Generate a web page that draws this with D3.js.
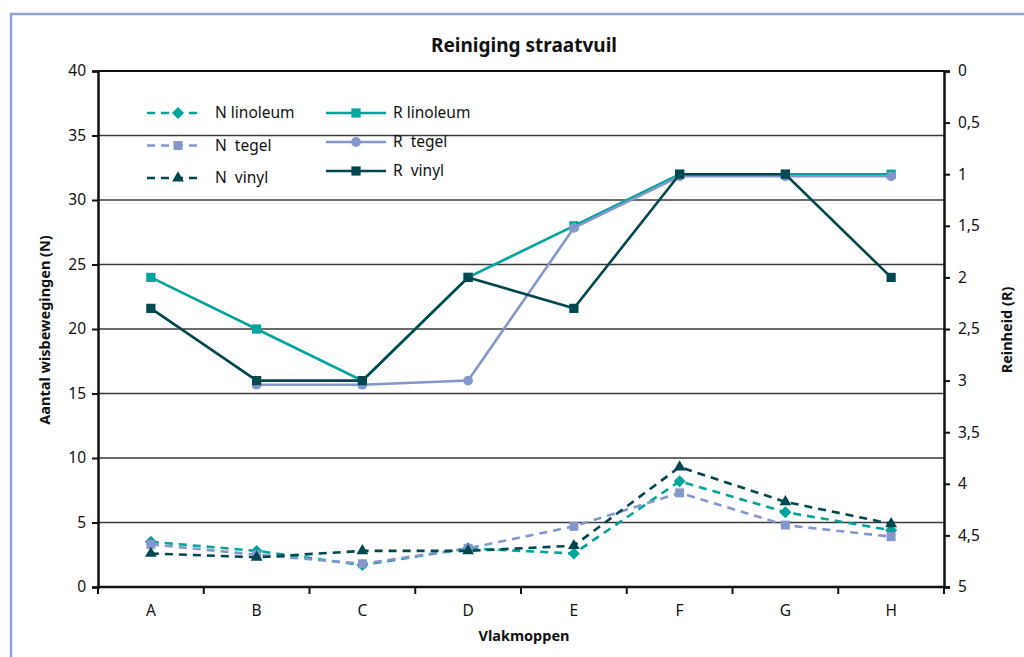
<!DOCTYPE html>
<html>
<head>
<meta charset="utf-8">
<script src="https://cdn.jsdelivr.net/npm/d3@7"></script>
<style>
  body { margin: 0; background: #fff; }
  svg text { font-family: "Noto Sans", "Open Sans", sans-serif; fill: #111; white-space: pre; }
</style>
</head>
<body>
<svg id="chart" width="1024" height="657"></svg>
<script>
// categories and values
var categories = ["A", "B", "C", "D", "E", "F", "G", "H"];
var nLinoleum = [3.5, 2.8, 1.7, 3.0, 2.6, 8.2, 5.8, 4.4];
var nTegel    = [3.3, 2.5, 1.8, 3.0, 4.7, 7.3, 4.8, 3.9];
var nVinyl    = [2.6, 2.3, 2.8, 2.8, 3.2, 9.3, 6.6, 4.9];
var rLinoleum = [2.0, 2.5, 3.0, 2.0, 1.5, 1.0, 1.0, 1.0];
var rTegel    = [null, 3.04, 3.04, 3.0, 1.52, 1.02, 1.02, 1.02];
var rVinyl    = [2.3, 3.0, 3.0, 2.0, 2.3, 1.0, 1.0, 2.0];
var leftTicks = [0, 5, 10, 15, 20, 25, 30, 35, 40];
var rightTicks = [0, 0.5, 1, 1.5, 2, 2.5, 3, 3.5, 4, 4.5, 5];

var teal = "#00a59b", lilac = "#8497cc", dark = "#00474f";

// rotate: 45 turns the square symbol into a wide diamond
var series = [
  { name: "N linoleum", values: nLinoleum, axis: "N", color: teal, dash: true, shape: d3.symbolSquare, size: 72, rotate: 45 },
  { name: "N  tegel", values: nTegel, axis: "N", color: lilac, dash: true, shape: d3.symbolSquare, size: 80, rotate: 0 },
  { name: "N  vinyl", values: nVinyl, axis: "N", color: dark, dash: true, shape: d3.symbolTriangle, size: 60, rotate: 0 },
  { name: "R linoleum", values: rLinoleum, axis: "R", color: teal, dash: false, shape: d3.symbolSquare, size: 85, rotate: 0 },
  { name: "R  tegel", values: rTegel, axis: "R", color: lilac, dash: false, shape: d3.symbolCircle, size: 75, rotate: 0 },
  { name: "R  vinyl", values: rVinyl, axis: "R", color: dark, dash: false, shape: d3.symbolSquare, size: 85, rotate: 0 }
];

var svg = d3.select("#chart");
var plotLeft = 98, plotRight = 944, plotTop = 71, plotBottom = 587;

// frame
svg.append("path")
   .attr("d", "M11,657 L11,14 L1024,14")
   .attr("fill", "none").attr("stroke", "#8fa2d0").attr("stroke-width", 2.5);

var x = d3.scaleBand().domain(categories).range([plotLeft, plotRight]);
var yN = d3.scaleLinear().domain([0, 40]).range([plotBottom, plotTop]);
var yR = d3.scaleLinear().domain([0, 5]).range([plotTop, plotBottom]);

// gridlines
svg.append("g").selectAll("line")
   .data(leftTicks.filter(function(t) { return t > 0; }))
   .enter().append("line")
   .attr("x1", plotLeft).attr("x2", plotRight)
   .attr("y1", function(d) { return yN(d); }).attr("y2", function(d) { return yN(d); })
   .attr("stroke", function(d) { return d === 40 ? "#111" : "#3a3a3a"; })
   .attr("stroke-width", function(d) { return d === 40 ? 2 : 1.5; });

// axes
var gl = svg.append("g").attr("transform", "translate(" + plotLeft + ",0)")
   .call(d3.axisLeft(yN).tickValues(leftTicks).tickSize(6).tickPadding(6));
var gr = svg.append("g").attr("transform", "translate(" + plotRight + ",0)")
   .call(d3.axisRight(yR).tickValues(rightTicks).tickSize(6).tickPadding(8)
         .tickFormat(function(d) { return String(d).replace(".", ","); }));
var gb = svg.append("g").attr("transform", "translate(0," + plotBottom + ")")
   .call(d3.axisBottom(x).tickSize(0).tickPadding(18));
[gl, gr, gb].forEach(function(g) {
  g.select(".domain").attr("stroke", "#111").attr("stroke-width", 2.5);
  g.selectAll(".tick line").attr("stroke", "#111").attr("stroke-width", 2);
  g.selectAll("text").attr("font-size", 15.5).attr("fill", "#111")
   .attr("font-family", "'Noto Sans', sans-serif");
});
gb.select(".domain").attr("d", "M" + plotLeft + ",0H" + plotRight);
// category separators
svg.append("g").selectAll("line")
   .data(d3.range(categories.length + 1))
   .enter().append("line")
   .attr("x1", function(i) { return plotLeft + i * x.step(); })
   .attr("x2", function(i) { return plotLeft + i * x.step(); })
   .attr("y1", plotBottom).attr("y2", plotBottom + 7)
   .attr("stroke", "#111").attr("stroke-width", 2);

// lines and markers
series.forEach(function(s) {
  var yS = s.axis === "N" ? yN : yR;
  var line = d3.line()
    .defined(function(d) { return d != null; })
    .x(function(d, i) { return x(categories[i]) + x.bandwidth() / 2; })
    .y(function(d) { return yS(d); });
  svg.append("path").datum(s.values)
     .attr("d", line).attr("fill", "none")
     .attr("stroke", s.color).attr("stroke-width", 2.6)
     .attr("stroke-dasharray", s.dash ? "8,6" : null);
  svg.append("g").selectAll("path")
     .data(s.values.map(function(v, i) { return { v: v, c: categories[i] }; })
                   .filter(function(d) { return d.v != null; }))
     .enter().append("path")
     .attr("transform", function(d) {
       return "translate(" + (x(d.c) + x.bandwidth() / 2) + "," + yS(d.v) + ") rotate(" + s.rotate + ")";
     })
     .attr("d", d3.symbol().type(s.shape).size(s.size))
     .attr("fill", s.color);
});

// legend
var legend = svg.append("g");
series.forEach(function(s, i) {
  var col = i < 3 ? 0 : 1, row = i % 3;
  var lx = col === 0 ? 147 : 326;
  var ly = col === 0 ? 113 + row * 32.5 : 113 + row * 29;
  var g = legend.append("g").attr("transform", "translate(" + lx + "," + ly + ")");
  g.append("line").attr("x1", 0).attr("x2", col === 0 ? 56 : 60)
   .attr("stroke", s.color).attr("stroke-width", 2.6)
   .attr("stroke-dasharray", s.dash ? "8,6" : null);
  g.append("path")
   .attr("transform", "translate(" + (col === 0 ? 31 : 30) + ",0) rotate(" + s.rotate + ")")
   .attr("d", d3.symbol().type(s.shape).size(s.size)).attr("fill", s.color);
  g.append("text").attr("x", col === 0 ? 68 : 67).attr("y", 5)
   .attr("font-size", 15.5).text(s.name);
});

// titles
svg.append("text").attr("x", 524).attr("y", 52).attr("text-anchor", "middle")
   .attr("font-size", 19).attr("font-weight", "bold").text("Reiniging straatvuil");
svg.append("text").attr("x", 524).attr("y", 641).attr("text-anchor", "middle")
   .attr("font-size", 14.5).attr("font-weight", "bold").text("Vlakmoppen");
svg.append("text").attr("transform", "translate(50,330) rotate(-90)")
   .attr("text-anchor", "middle").attr("font-size", 14.5).attr("font-weight", "bold")
   .text("Aantal wisbewegingen (N)");
svg.append("text").attr("transform", "translate(1012,330) rotate(-90)")
   .attr("text-anchor", "middle").attr("font-size", 14.5).attr("font-weight", "bold")
   .text("Reinheid (R)");
</script>
</body>
</html>
